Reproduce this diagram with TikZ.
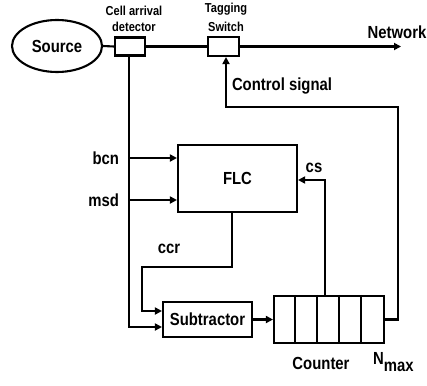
\documentclass[tikz,border=0pt]{standalone}
\usepackage{fontspec}
\setmainfont{Liberation Sans}[FakeStretch=0.85]
\usetikzlibrary{arrows.meta,calc,shapes.geometric}
\begin{document}
\begin{tikzpicture}[x=1pt,y=-1pt,
  line width=2.1pt,
  every node/.style={font=\bfseries\fontsize{17.5}{18}\selectfont, inner sep=0pt},
  small/.style={font=\bfseries\fontsize{13}{14}\selectfont},
  arr/.style={-{Triangle[length=7pt,width=7pt]}}]
\useasboundingbox (0,0) rectangle (427,385);
% source
\node[draw, ellipse, minimum width=90, minimum height=52] (src) at (57,46) {Source};
% detector & switch
\node[draw, minimum width=30, minimum height=18] (det) at (130,46.5) {};
\node[draw, minimum width=31, minimum height=19] (sw) at (223.5,46.5) {};
\node[small] (lbl1) at (134,11) {Cell arrival};
\node[small] (lbl2) at (134,27) {detector};
\node[small] (lbl3) at (226,9) {Tagging};
\node[small] (lbl4) at (226,27) {Switch};
\coordinate (net) at (401,46.5);
\node (nettxt) at (397,32) {Network};
\draw (src.east) -- (det.west);
\draw (det.east) -- (sw.west);
\draw[arr] (sw.east) -- (net);
% FLC
\node[draw, minimum width=119, minimum height=67] (flc) at (237.5,178.5) {FLC};
% subtractor
\node[draw, minimum width=89, minimum height=35] (sub) at (207.5,319.5) {Subtractor};
% counter
\node[draw, minimum width=110, minimum height=47] (cnt) at (329,319.5) {};
\foreach \i in {1,2,3,4} {\draw (cnt.north west) ++(22*\i,0) -- ++(0,47);}
\node (cnttxt) at (321,363) {Counter};
\node[anchor=west] (nmax) at (372,362) {N\raisebox{-7pt}{max}};
% labels
\node[anchor=east] (bcn) at (120,158) {bcn};
\node[anchor=east] (msd) at (120,200) {msd};
\node (cs) at (314,168) {cs};
\node (ccr) at (169,249) {ccr};
\node (ctl) at (282,86) {Control signal};
% detector line
\coordinate (v1) at (129,158);
\coordinate (v2) at (129,200);
\coordinate (v3) at (129,327);
\draw[arr] (det.south -| v1) -- (v3) -- (sub.west |- v3);
\draw[arr] (v1) -- (flc.west |- v1);
\draw[arr] (v2) -- (flc.west |- v2);
% ccr loop
\draw[arr] (flc.south -| 232,0) -- (232,267) -- (142,267) -- (142,311) -- (sub.west |- 0,311);
% sub to counter
\draw[arr] (sub.east) -- (cnt.west);
% cs
\draw[arr] (cnt.north -| 325,0) -- (325,180) -- (flc.east |- 0,180);
% control signal
\draw[arr] (cnt.east) -- (398,319.5) -- (398,107) -- (226,107) -- (sw.south -| 226,0);
\end{tikzpicture}
\end{document}
